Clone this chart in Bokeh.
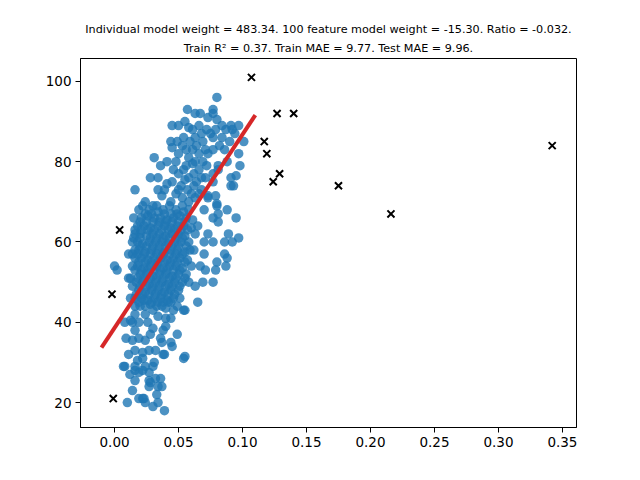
from bokeh.plotting import figure
from bokeh.models import Range1d, FixedTicker, NumeralTickFormatter, Title
from bokeh.embed import file_html
from bokeh.resources import INLINE

# training points, grouped by region
upper_pts = [
    (0.080, 96), (0.057, 93), (0.063, 92), (0.067, 92), (0.077, 93), (0.077, 92), (0.073, 91),
    (0.080, 90.5), (0.084, 89), (0.091, 89), (0.097, 89), (0.092, 88), (0.087, 88), (0.045, 89),
    (0.050, 89), (0.055, 90), (0.058, 88.5), (0.061, 88), (0.066, 89), (0.044, 85), (0.049, 85),
    (0.054, 86), (0.059, 85), (0.063, 86), (0.069, 85), (0.075, 87), (0.077, 86), (0.084, 86),
    (0.045, 83.5), (0.053, 84), (0.061, 83), (0.066, 82), (0.071, 83), (0.077, 83), (0.058, 81),
    (0.063, 80), (0.069, 80), (0.073, 82), (0.088, 80), (0.097, 82), (0.098, 79), (0.095, 76.5),
    (0.091, 74), (0.071, 76), (0.077, 75), (0.077, 77), (0.081, 78), (0.073, 71.5), (0.079, 71.5),
    (0.080, 69.5), (0.101, 85), (0.081, 79), (0.093, 74), (0.091, 76),
    (0.050, 82), (0.056, 83), (0.064, 84), (0.068, 87), (0.072, 88), (0.079, 88), (0.082, 84),
    (0.086, 83), (0.090, 85), (0.094, 87),
]
mid_left_pts = [
    (0.031, 81), (0.036, 79), (0.041, 80), (0.048, 80), (0.028, 76), (0.034, 76), (0.041, 74.5),
    (0.016, 73), (0.024, 70), (0.034, 73), (0.037, 71.5), (0.050, 77), (0.054, 78), (0.058, 76),
    (0.062, 77), (0.066, 78), (0.052, 74), (0.057, 73), (0.062, 74), (0.066, 72), (0.048, 72),
    (0.053, 71), (0.058, 70), (0.063, 71), (0.068, 73), (0.044, 70), (0.030, 69),
    (0.045, 75), (0.050, 73), (0.055, 75.5), (0.060, 72), (0.064, 75), (0.046, 78), (0.039, 73),
    (0.056, 79), (0.061, 79.5), (0.068, 76), (0.072, 79),
]
right_pts = [
    (0.088, 68), (0.095, 66), (0.081, 67), (0.080, 69), (0.073, 71), (0.070, 68), (0.077, 66),
    (0.081, 65), (0.073, 62), (0.089, 62), (0.097, 61), (0.092, 60), (0.086, 60), (0.077, 60),
    (0.070, 60), (0.059, 58), (0.070, 57), (0.067, 54), (0.071, 53), (0.080, 55), (0.086, 57),
    (0.088, 56), (0.087, 54), (0.079, 53), (0.077, 50), (0.069, 50), (0.063, 49), (0.065, 45),
    (0.055, 43),
]
left_pts = [
    (0.000, 54), (0.002, 53), (0.0125, 51), (0.011, 57), (0.014, 57), (0.016, 58), (0.015, 66),
    (0.019, 68), (0.016, 62), (0.014, 60), (0.014, 54), (0.011, 51), (0.014, 49), (0.0125, 46),
]
core_pts = [
    (0.022, 69), (0.027, 68), (0.033, 69), (0.038, 68), (0.043, 69), (0.048, 68), (0.053, 69), (0.058, 68),
    (0.021, 66), (0.026, 66.5), (0.031, 66), (0.036, 66), (0.041, 65.5), (0.046, 66), (0.051, 66.5),
    (0.056, 66), (0.061, 65.5),
    (0.018, 64), (0.023, 64), (0.028, 63.5), (0.034, 64), (0.039, 64), (0.044, 63.5), (0.049, 64),
    (0.054, 64), (0.060, 63.5), (0.065, 64),
    (0.020, 62), (0.025, 61.5), (0.030, 62), (0.035, 62), (0.040, 61.5), (0.045, 62), (0.050, 62),
    (0.055, 61.5), (0.063, 62),
    (0.018, 60), (0.022, 59.5), (0.027, 60), (0.032, 60), (0.037, 60), (0.042, 59.5), (0.047, 60),
    (0.052, 60), (0.058, 60),
    (0.019, 58), (0.024, 57.5), (0.029, 58), (0.034, 58), (0.039, 57.5), (0.044, 58), (0.049, 58),
    (0.055, 57.5), (0.062, 58),
    (0.016, 56), (0.021, 56), (0.026, 55.5), (0.031, 56), (0.036, 56), (0.041, 55.5), (0.046, 56),
    (0.051, 56), (0.057, 55.5),
    (0.018, 54), (0.023, 53.5), (0.028, 54), (0.033, 54), (0.038, 53.5), (0.043, 54), (0.048, 54),
    (0.053, 53.5), (0.060, 54),
    (0.020, 52), (0.025, 52), (0.030, 51.5), (0.035, 52), (0.040, 52), (0.045, 51.5), (0.050, 52),
    (0.056, 52),
    (0.017, 50), (0.022, 50), (0.027, 49.5), (0.032, 50), (0.037, 50), (0.042, 49.5), (0.047, 50),
    (0.053, 50), (0.058, 50),
    (0.019, 48), (0.024, 47.5), (0.029, 48), (0.034, 48), (0.039, 47.5), (0.044, 48), (0.050, 48),
    (0.016, 46), (0.021, 46), (0.026, 45.5), (0.031, 46), (0.036, 46), (0.041, 45.5), (0.046, 46),
    (0.051, 46),
    (0.024, 44), (0.028, 44.5), (0.033, 44), (0.040, 43.5), (0.049, 44),
]
core_fill_pts = [
    (0.024, 67), (0.029, 67), (0.034, 67.5), (0.039, 67), (0.044, 67), (0.049, 67), (0.054, 67.5),
    (0.020, 65), (0.025, 65), (0.030, 65), (0.035, 65), (0.040, 65), (0.045, 65), (0.050, 65), (0.055, 65),
    (0.016, 63), (0.021, 63), (0.026, 63), (0.031, 63), (0.037, 63), (0.042, 63), (0.047, 63),
    (0.052, 63), (0.057, 63),
    (0.015, 61), (0.020, 61), (0.028, 61), (0.033, 61), (0.038, 61), (0.043, 61), (0.048, 61), (0.053, 61),
    (0.020, 59), (0.025, 59), (0.030, 59), (0.035, 59), (0.040, 59), (0.045, 59), (0.050, 59), (0.056, 59),
    (0.018, 57), (0.023, 57), (0.028, 57), (0.033, 57), (0.038, 57), (0.043, 57), (0.048, 57), (0.053, 57),
    (0.019, 55), (0.024, 55), (0.029, 55), (0.034, 55), (0.039, 55), (0.044, 55), (0.049, 55), (0.055, 55),
    (0.016, 53), (0.021, 53), (0.026, 53), (0.031, 53), (0.036, 53), (0.041, 53), (0.046, 53), (0.051, 53),
    (0.018, 51), (0.023, 51), (0.028, 51), (0.033, 51), (0.038, 51), (0.043, 51), (0.048, 51), (0.055, 51),
    (0.020, 49), (0.025, 49), (0.030, 49), (0.035, 49), (0.040, 49), (0.045, 49), (0.051, 49),
    (0.017, 47), (0.022, 47), (0.027, 47), (0.032, 47), (0.037, 47), (0.042, 47), (0.047, 47),
    (0.019, 45), (0.023, 45.5), (0.029, 45), (0.034, 45), (0.038, 45), (0.044, 45),
]
lower_pts = [
    (0.054, 43), (0.049, 37), (0.040, 39), (0.045, 34), (0.039, 32), (0.031, 30), (0.036, 26),
    (0.034, 24), (0.027, 24), (0.028, 25), (0.014, 23), (0.010, 20), (0.019, 21), (0.023, 21),
    (0.024, 20), (0.034, 20), (0.030, 19), (0.039, 18), (0.008, 29), (0.012, 27), (0.016, 25.5),
    (0.016, 28), (0.019, 27.5), (0.027, 27.5), (0.027, 25.5), (0.009, 36), (0.011, 32), (0.016, 33),
    (0.022, 32.5), (0.027, 33), (0.032, 33), (0.038, 32), (0.014, 40), (0.019, 40), (0.026, 40),
    (0.030, 38.5), (0.016, 38), (0.019, 36), (0.024, 35.5), (0.028, 37), (0.036, 36), (0.044, 35),
    (0.037, 35), (0.014, 35.5), (0.018, 30.5), (0.022, 31), (0.016, 29), (0.022, 28), (0.007, 29),
    (0.024, 29), (0.030, 29), (0.032, 26), (0.037, 24), (0.033, 22), (0.022, 21), (0.054, 31),
    (0.055, 31.5), (0.008, 40), (0.0125, 40.5), (0.016, 42), (0.020, 44), (0.016, 44), (0.024, 42),
    (0.030, 43), (0.034, 41.5), (0.037, 44), (0.042, 45), (0.044, 41), (0.038, 38), (0.040, 41),
    (0.046, 43),
]

# held-out points (black crosses)
test_x = [0.107, 0.127, 0.140, 0.117, 0.119, 0.129, 0.124, 0.175, 0.216, 0.342, 0.004, -0.002, -0.001]
test_y = [101, 92, 92, 85, 82, 77, 75, 74, 67, 84, 63, 47, 21]

# fitted line end points
fit_x = [-0.0102, 0.110]
fit_y = [33.7, 91.6]

x_ticks = [0.0, 0.05, 0.10, 0.15, 0.20, 0.25, 0.30, 0.35]
y_ticks = [20, 40, 60, 80, 100]

title_1 = "Individual model weight = 483.34. 100 feature model weight = -15.30. Ratio = -0.032."
title_2 = "Train R\u00b2 = 0.37. Train MAE = 9.77. Test MAE = 9.96."

all_pts = upper_pts + mid_left_pts + right_pts + left_pts + core_pts + core_fill_pts + lower_pts
train_x = [pt[0] for pt in all_pts]
train_y = [pt[1] for pt in all_pts]

FONT = "DejaVu Sans"

p = figure(width=624, height=464, output_backend="svg", toolbar_location=None,
           x_range=Range1d(-0.0266, 0.361), y_range=Range1d(13.8, 105.7),
           min_border_left=80, min_border_right=48, min_border_top=58, min_border_bottom=37)

p.add_layout(Title(text=title_2, align="center", text_font=FONT, text_font_size="11.2px",
                   text_font_style="normal", text_color="black", standoff=8), "above")
p.add_layout(Title(text=title_1, align="center", text_font=FONT, text_font_size="11.2px",
                   text_font_style="normal", text_color="black", standoff=0), "above")

p.scatter(train_x, train_y, size=9.5, color="#1f77b4", alpha=0.8, line_width=0)
p.line(fit_x, fit_y, color="#d62728", line_width=4)
p.scatter(test_x, test_y, marker="x", size=10, color="black", line_width=2)

p.xgrid.visible = False
p.ygrid.visible = False
p.outline_line_color = "black"
p.outline_line_width = 1
p.outline_line_alpha = 1

p.xaxis.ticker = FixedTicker(ticks=x_ticks)
p.xaxis.formatter = NumeralTickFormatter(format="0.00")
p.yaxis.ticker = FixedTicker(ticks=y_ticks)
for ax in (p.xaxis[0], p.yaxis[0]):
    ax.major_label_text_font = FONT
    ax.major_label_text_font_size = "13.5px"
    ax.major_label_text_color = "black"
    ax.major_tick_in = 0
    ax.major_tick_out = 5
    ax.minor_tick_in = 0
    ax.minor_tick_out = 0
    ax.axis_line_color = "black"
    ax.major_tick_line_color = "black"
    ax.major_label_standoff = 4

p.background_fill_color = "white"
p.border_fill_color = "white"

open("out.html", "w").write(file_html(p, INLINE))
